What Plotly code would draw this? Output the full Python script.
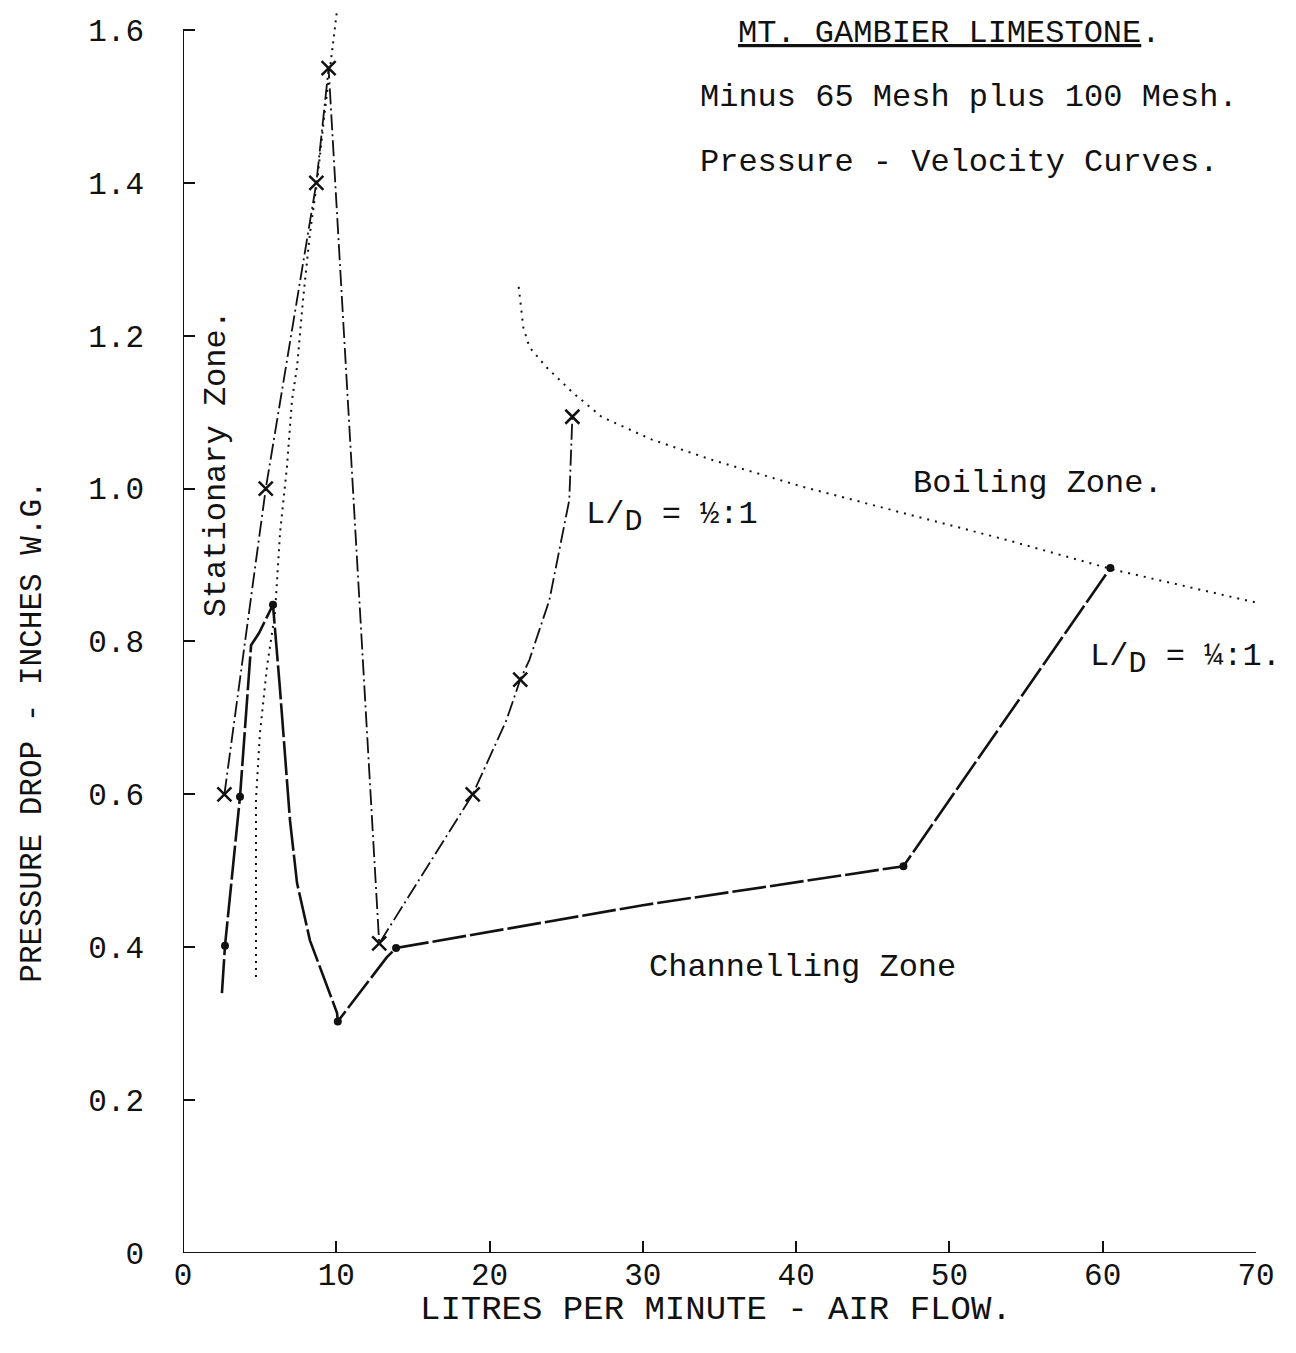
import plotly.graph_objects as go

# ---------------- data ----------------
# L/D = 1/2:1 series (x markers)
half_x = [2.7, 5.4, 8.7, 9.5, 12.8, 18.9, 22.0, 25.4]
half_y = [0.60, 1.00, 1.40, 1.55, 0.405, 0.60, 0.75, 1.094]
# drawn curve vertices for the L/D = 1/2:1 line
half_line_x = [2.7, 5.4, 8.7, 9.5, 12.8, 18.9, 21.1, 22.0, 22.6, 23.9, 25.2, 25.4]
half_line_y = [0.60, 1.00, 1.40, 1.55, 0.405, 0.60, 0.697, 0.75, 0.776, 0.854, 0.985, 1.094]

# L/D = 1/4:1 series (dot markers)
quarter_x = [2.74, 3.72, 5.87, 10.1, 13.9, 47.0, 60.5]
quarter_y = [0.402, 0.597, 0.848, 0.303, 0.399, 0.506, 0.896]
# drawn curve vertices for the L/D = 1/4:1 line
quarter_line_x = [2.54, 2.74, 3.72, 4.44, 4.96, 5.87, 6.33, 6.98, 7.44, 8.28, 10.05, 10.1, 13.3, 13.9, 30.0, 47.0, 60.5]
quarter_line_y = [0.340, 0.402, 0.597, 0.795, 0.811, 0.848, 0.737, 0.566, 0.484, 0.409, 0.314, 0.303, 0.387, 0.399, 0.455, 0.506, 0.896]

# Stationary-zone boundary (dotted)
stat_x = [4.76, 4.76, 5.02, 5.48, 6.0, 6.33, 6.78, 7.11, 7.44, 7.83, 8.28, 8.74, 9.26, 9.72, 10.05]
stat_y = [0.361, 0.593, 0.680, 0.767, 0.837, 0.942, 1.028, 1.116, 1.159, 1.247, 1.334, 1.400, 1.495, 1.574, 1.626]

# Boiling-zone boundary (dotted)
boil_x = [21.9, 22.2, 22.6, 23.7, 25.4, 27.3, 30.6, 34.6, 40.5, 47.1, 53.7, 60.7, 70.2]
boil_y = [1.264, 1.211, 1.185, 1.159, 1.126, 1.094, 1.064, 1.037, 1.002, 0.968, 0.933, 0.894, 0.850]

x_ticks = [0, 10, 20, 30, 40, 50, 60, 70]
x_tick_labels = ["0", "10", "20", "30", "40", "50", "60", "70"]
y_ticks = [0, 0.2, 0.4, 0.6, 0.8, 1.0, 1.2, 1.4, 1.6]
y_tick_labels = ["0", "0.2", "0.4", "0.6", "0.8", "1.0", "1.2", "1.4", "1.6"]

INK = "#111111"
FONT = "Liberation Mono"

fig = go.Figure()

# dotted zone boundaries
fig.add_trace(go.Scatter(x=stat_x, y=stat_y, mode="lines",
                         line=dict(color=INK, width=2, dash="2px,5px"), hoverinfo="skip"))
fig.add_trace(go.Scatter(x=boil_x, y=boil_y, mode="lines",
                         line=dict(color=INK, width=2, dash="2px,6px"), hoverinfo="skip"))

# L/D = 1/4:1 line and points
fig.add_trace(go.Scatter(x=quarter_line_x, y=quarter_line_y, mode="lines",
                         line=dict(color=INK, width=2.6, dash="34px,4px")))
fig.add_trace(go.Scatter(x=quarter_x, y=quarter_y, mode="markers",
                         marker=dict(symbol="circle", size=8, color=INK)))

# L/D = 1/2:1 line and points
fig.add_trace(go.Scatter(x=half_line_x, y=half_line_y, mode="lines",
                         line=dict(color=INK, width=1.8, dash="16px,4px,2px,4px")))
fig.add_trace(go.Scatter(x=half_x, y=half_y, mode="markers",
                         marker=dict(symbol="x-thin", size=14, color=INK,
                                     line=dict(color=INK, width=2.5))))

# axis lines
fig.add_shape(type="line", x0=0, x1=0, y0=0, y1=1.6, xref="x", yref="y",
              line=dict(color=INK, width=2))
fig.add_shape(type="line", x0=0, x1=70, y0=0, y1=0, xref="x", yref="y",
              line=dict(color=INK, width=2))

tf = dict(family=FONT, size=32, color=INK)
big_d = "<sub><span style='font-size:30px'>D</span></sub>"
ann = [
    dict(x=50.0, y=1.596, text="<u>MT. GAMBIER LIMESTONE</u>.", xanchor="center", yanchor="middle"),
    dict(x=51.3, y=1.512, text="Minus 65 Mesh plus 100 Mesh.", xanchor="center", yanchor="middle"),
    dict(x=50.6, y=1.426, text="Pressure - Velocity Curves.", xanchor="center", yanchor="middle"),
    dict(x=55.8, y=1.007, text="Boiling Zone.", xanchor="center", yanchor="middle"),
    dict(x=40.4, y=0.373, text="Channelling Zone", xanchor="center", yanchor="middle"),
    dict(x=31.9, y=0.962, text="L/" + big_d + " = ½:1", xanchor="center", yanchor="middle"),
    dict(x=65.4, y=0.776, text="L/" + big_d + " = ¼:1.", xanchor="center", yanchor="middle"),
    dict(x=2.15, y=1.033, text="Stationary Zone.", textangle=-90, xanchor="center", yanchor="middle"),
]
for a in ann:
    fig.add_annotation(xref="x", yref="y", showarrow=False, font=tf, **a)

# axis titles
fig.add_annotation(xref="x", yref="y", x=0, y=0.682, xshift=-150, showarrow=False,
                   text="PRESSURE DROP - INCHES W.G.", textangle=-90,
                   font=dict(family=FONT, size=31, color=INK), xanchor="center", yanchor="middle")
fig.add_annotation(xref="x", yref="y", x=34.8, y=0, yshift=-57, showarrow=False,
                   text="LITRES PER MINUTE - AIR FLOW.",
                   font=dict(family=FONT, size=34, color=INK), xanchor="center", yanchor="middle")

axis_common = dict(showgrid=False, zeroline=False, showline=False, ticks="inside",
                   ticklen=12, tickwidth=2, tickcolor=INK,
                   tickfont=dict(family=FONT, size=31, color=INK))

fig.update_layout(
    width=1296, height=1353,
    margin=dict(l=183, r=40, t=0, b=100),
    paper_bgcolor="white", plot_bgcolor="white",
    showlegend=False,
    xaxis=dict(range=[0, 70], tickvals=x_ticks, ticktext=x_tick_labels, ticklabelstandoff=0, **axis_common),
    yaxis=dict(range=[0, 1.6392], tickvals=y_ticks, ticktext=y_tick_labels, ticklabelstandoff=38, **axis_common),
)

fig.write_html("out.html")
